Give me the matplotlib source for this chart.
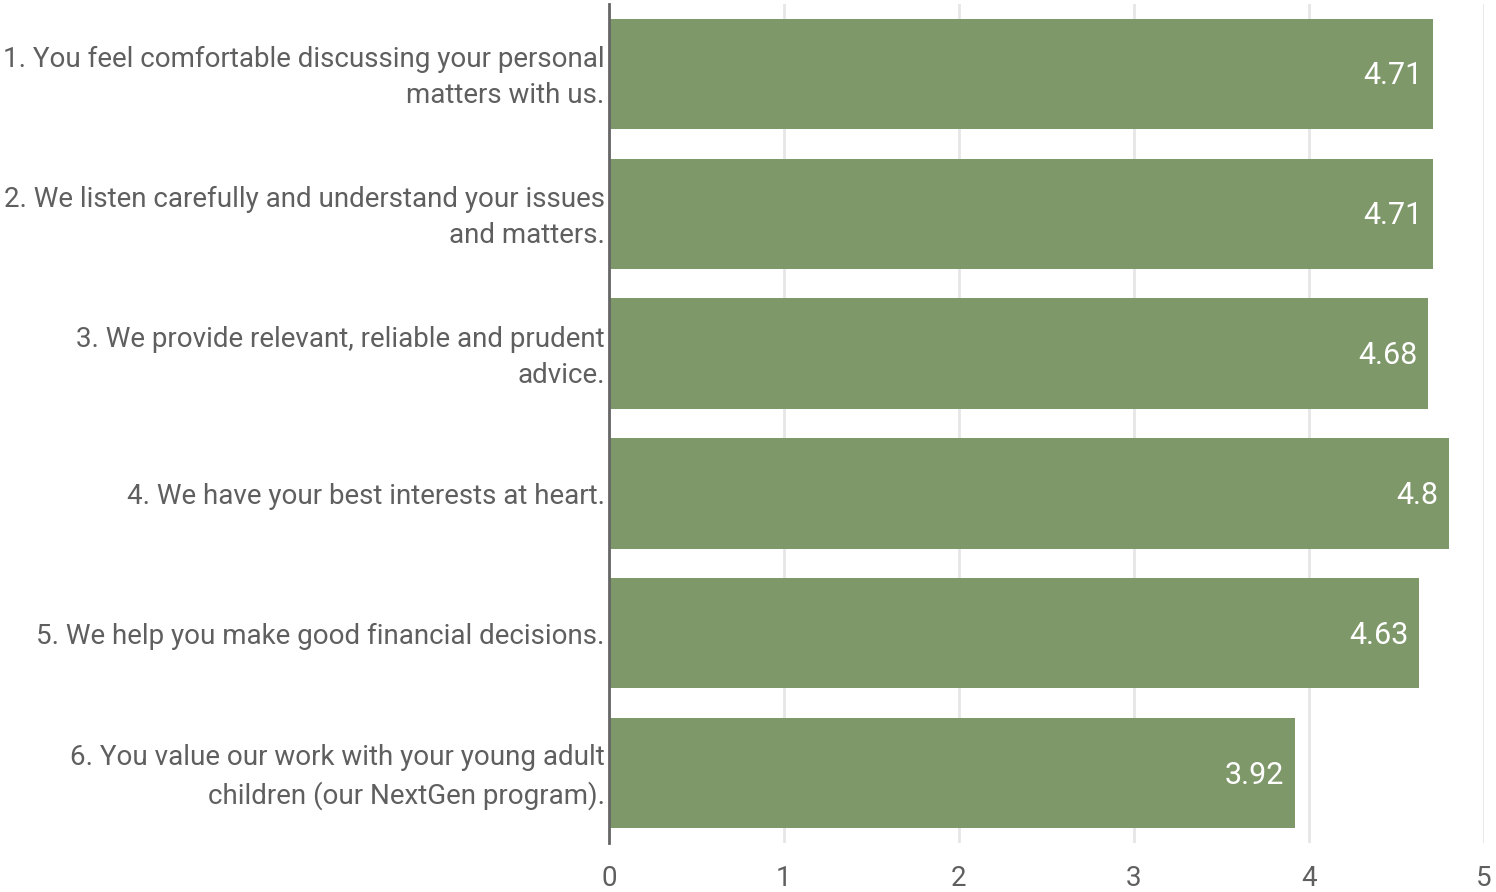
import matplotlib.pyplot as plt
from matplotlib.transforms import offset_copy, ScaledTranslation

plt.rcParams['font.family'] = ['Roboto', 'DejaVu Sans']

etiquetas = ['1. You feel comfortable discussing your personal\nmatters with us.',
             '2. We listen carefully and understand your issues\nand matters.',
             '3. We provide relevant, reliable and prudent\nadvice.',
             '4. We have your best interests at heart.',
             '5. We help you make good financial decisions.',
             '6. You value our work with your young adult\nchildren (our NextGen program).']
valores = [4.71, 4.71, 4.68, 4.8, 4.63, 3.92]
rotulos = ['4.71', '4.71', '4.68', '4.8', '4.63', '3.92']
ticks_x = [0, 1, 2, 3, 4, 5]

cor_barra = '#7f986a'
cor_texto = '#5f5f5f'

fig = plt.figure(figsize=(14.96, 8.92), dpi=100)
ax = fig.add_axes([0.407, 0.055, 0.585, 0.9405])

pos = list(range(len(valores)))
ax.barh(pos, valores, height=0.79, color=cor_barra, zorder=3)

trans = offset_copy(ax.transData, fig=fig, x=-11, y=-2, units='dots')
for p, v, r in zip(pos, valores, rotulos):
    ax.text(v, p, r, transform=trans, ha='right', va='center',
            color='white', fontsize=22, zorder=4)

ax.set_ylim(len(valores) - 0.5, -0.5)
ax.set_xlim(0, 5)
ax.set_yticks(pos)
ax.set_yticklabels(etiquetas, fontsize=20, color=cor_texto, linespacing=1.45)
ax.set_xticks(ticks_x)
ax.set_xticklabels([str(t) for t in ticks_x], fontsize=20, color=cor_texto)
ax.tick_params(axis='both', length=0)
ax.tick_params(axis='x', pad=16)
ax.tick_params(axis='y', pad=3)

# rotulos de duas linhas ficam um pouco baixos
for lab in ax.get_yticklabels():
    if '\n' in lab.get_text():
        lab.set_transform(lab.get_transform() + ScaledTranslation(0, 4/100, fig.dpi_scale_trans))

ax.grid(axis='x', color='#e6e6e6', lw=2, zorder=0)
for s in ['top', 'right', 'bottom']:
    ax.spines[s].set_visible(False)
ax.spines['left'].set_color('#666666')
ax.spines['left'].set_linewidth(2)
ax.spines['left'].set_zorder(5)

plt.savefig('out.png', dpi=100)
plt.close()
